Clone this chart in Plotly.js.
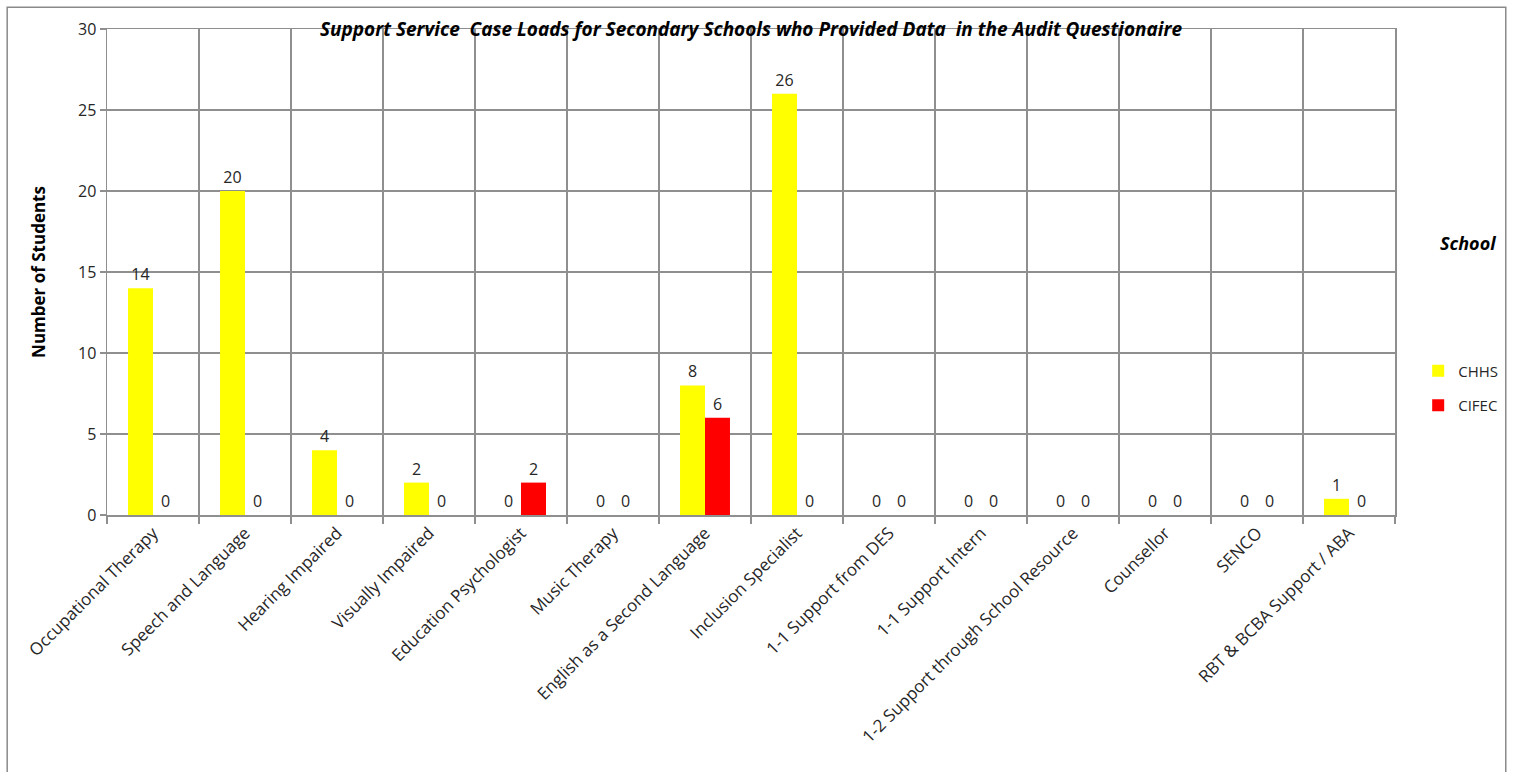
<!DOCTYPE html>
<html>
<head>
<meta charset="utf-8">
<script src="https://cdn.plot.ly/plotly-3.0.1.min.js"></script>
<style>
  html, body { margin: 0; padding: 0; background: #ffffff; }
  #chart { width: 1515px; height: 772px; }
</style>
</head>
<body>
<div id="chart"></div>
<script>
// Support services offered, one bar group per service
const services = [
  "Occupational Therapy",
  "Speech and Language",
  "Hearing Impaired",
  "Visually Impaired",
  "Education Psychologist",
  "Music Therapy",
  "English as a Second Language",
  "Inclusion Specialist",
  "1-1 Support from DES",
  "1-1 Support Intern",
  "1-2 Support through School Resource",
  "Counsellor",
  "SENCO",
  "RBT & BCBA Support / ABA"
];

// Number of students per service, by school
const chhs  = [14, 20, 4, 2, 0, 0, 8, 26, 0, 0, 0, 0, 0, 1];
const cifec = [0, 0, 0, 0, 2, 0, 6, 0, 0, 0, 0, 0, 0, 0];

const schoolNames = ["CHHS", "CIFEC"];
const yTicks = [0, 5, 10, 15, 20, 25, 30];

const chartTitle = "Support Service  Case Loads for Secondary Schools who Provided Data  in the Audit Questionaire";
const yTitle = "Number of Students";
const legendHeading = "School";

const FONT = "Open Sans, Liberation Sans, sans-serif";
const GRID = "#8f8f8f";
const INK = "#262626";

function barTrace(name, values, color, group) {
  return {
    type: "bar",
    name: name,
    x: services,
    y: values,
    marker: { color: color, line: { width: 0 } },
    text: values.map(String),
    textposition: "outside",
    cliponaxis: false,
    textfont: { family: FONT, size: 16, color: INK },
    legendgroup: group,
    hoverinfo: "x+y+name"
  };
}

const data = [
  barTrace(schoolNames[0], chhs, "#ffff00", "a"),
  barTrace(schoolNames[1], cifec, "#ff0000", "b")
];

const layout = {
  width: 1515,
  height: 772,
  paper_bgcolor: "#ffffff",
  plot_bgcolor: "#ffffff",
  margin: { l: 107, r: 118, t: 29, b: 257, pad: 0 },
  barmode: "group",
  bargap: 0.457,
  bargroupgap: 0,
  font: { family: FONT, color: INK },
  title: {
    text: chartTitle,
    font: { family: FONT, size: 19, weight: "bold", style: "italic", color: "#000000" },
    x: 0.5, xanchor: "center",
    y: 0.962, yanchor: "middle",
    xref: "paper", yref: "container"
  },
  xaxis: {
    type: "category",
    tickson: "boundaries",
    ticks: "outside",
    ticklen: 7,
    tickcolor: GRID,
    tickwidth: 1.5,
    showgrid: true,
    gridcolor: GRID,
    gridwidth: 1.5,
    showline: true,
    linecolor: GRID,
    linewidth: 1.5,
    mirror: true,
    tickangle: -45,
    tickfont: { family: FONT, size: 17, color: INK },
    fixedrange: true
  },
  yaxis: {
    range: [0, 30],
    tickvals: yTicks,
    ticks: "outside",
    ticklen: 6,
    tickcolor: GRID,
    tickwidth: 1.5,
    showgrid: true,
    gridcolor: GRID,
    gridwidth: 1.5,
    zeroline: false,
    showline: true,
    linecolor: GRID,
    linewidth: 1.5,
    mirror: true,
    tickfont: { family: FONT, size: 16, color: INK },
    title: {
      text: yTitle,
      font: { family: FONT, size: 17, weight: "bold", color: "#000000" },
      standoff: 28
    },
    fixedrange: true
  },
  showlegend: true,
  legend: {
    x: 1.018, xanchor: "left",
    y: 0.33, yanchor: "top",
    bgcolor: "rgba(0,0,0,0)",
    font: { family: FONT, size: 15, color: INK },
    tracegroupgap: 12,
    itemwidth: 30
  },
  annotations: [{
    text: legendHeading,
    xref: "paper", yref: "paper",
    x: 1.057, xanchor: "center",
    y: 0.56, yanchor: "middle",
    showarrow: false,
    font: { family: FONT, size: 18, weight: "bold", style: "italic", color: "#000000" }
  }],
  shapes: [{
    type: "rect",
    xref: "paper", yref: "paper",
    x0: -0.0775, x1: 1.086,
    y0: -0.62, y1: 1.045,
    line: { color: "#8a8a8a", width: 1.5 },
    fillcolor: "rgba(0,0,0,0)",
    layer: "below"
  }]
};

Plotly.newPlot("chart", data, layout, { displayModeBar: false, staticPlot: true });
</script>
</body>
</html>
